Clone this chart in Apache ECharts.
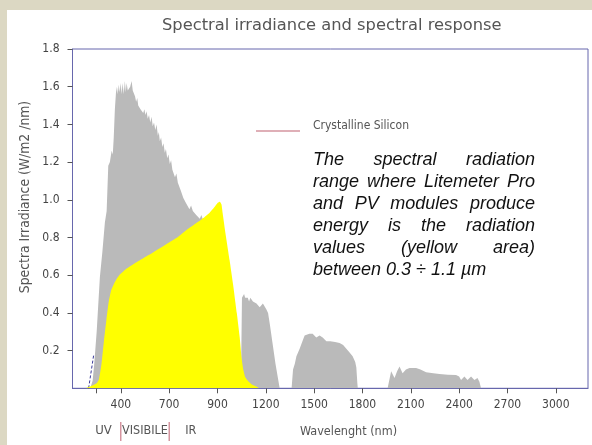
<!DOCTYPE html>
<html><head><meta charset="utf-8">
<script src="https://cdn.jsdelivr.net/npm/echarts@6/dist/echarts.min.js"></script>
<style>html,body{margin:0;padding:0;background:#dcd8c3;}#c{width:592px;height:445px;}</style>
</head><body><div id="c"></div>
<script>
// ---- data ----
const titleText = 'Spectral irradiance and spectral response';
const xTickValues = [300, 600, 900, 1200, 1500, 1800, 2100, 2400, 2700, 3000];
const xTickLabels = ['400', '700', '900', '1200', '1500', '1800', '2100', '2400', '2700', '3000'];
const xExtraTicks = [150];
const yTickValues = [0.2, 0.4, 0.6, 0.8, 1.0, 1.2, 1.4, 1.6, 1.8];
const bandLabels = ['UV', 'VISIBILE', 'IR'];
const legendName = 'Crystalline Silicon';
const noteLines = ['The spectral radiation', 'range where Litemeter Pro', 'and PV modules produce', 'energy is the radiation', 'values (yellow area)', 'between 0.3 ÷ 1.1 µm'];

// solar spectral irradiance (grey area)
const irradiance = [
 [110,0],[125,0.04],[135,0.13],[150,0.30],[170,0.59],[185,0.72],[201,0.88],[212,0.94],[222,1.18],[232,1.20],[243,1.26],[250,1.24],[256,1.33],[263,1.48],[270,1.57],[276,1.60],[281,1.56],[287,1.61],[293,1.57],[299,1.62],[305,1.56],[311,1.62],[318,1.56],[325,1.63],[331,1.57],[336,1.62],[343,1.58],[350,1.57],[358,1.60],[367,1.63],[374,1.58],[381,1.57],[388,1.55],[395,1.52],[402,1.54],[408,1.50],[415,1.51],[422,1.48],[430,1.49],[439,1.46],[446,1.48],[453,1.45],[460,1.47],[467,1.43],[475,1.45],[483,1.41],[491,1.44],[498,1.39],[506,1.41],[514,1.37],[522,1.40],[530,1.34],[536,1.36],[542,1.31],[550,1.33],[558,1.28],[565,1.30],[573,1.25],[580,1.27],[588,1.22],[596,1.24],[604,1.19],[612,1.21],[620,1.16],[628,1.17],[636,1.12],[645,1.14],[654,1.09],[663,1.10],[672,1.05],[680,1.06],[688,1.01],[697,1.02],[706,0.98],[716,0.99],[726,0.95],[736,0.97],[747,0.94],[757,0.95],[768,0.92],[778,0.93],[790,0.90],[800,0.92],[815,0.88],[840,0.85],[870,0.79],[900,0.70],[930,0.55],[960,0.38],[1000,0.25],[1030,0.14],[1046,0.05],
 [1052,0.48],[1058,0.47],[1065,0.50],[1072,0.48],[1080,0.47],[1088,0.48],[1096,0.46],[1104,0.48],[1111,0.48],[1120,0.46],[1130,0.47],[1142,0.45],[1152,0.44],[1162,0.43],[1172,0.44],[1182,0.45],[1193,0.45],[1203,0.42],[1214,0.40],[1225,0.34],[1240,0.25],[1260,0.13],[1286,0],
 [1360,0],[1369,0.10],[1380,0.13],[1390,0.17],[1400,0.19],[1410,0.21],[1420,0.22],[1432,0.26],[1441,0.28],[1452,0.29],[1470,0.29],[1491,0.29],[1502,0.28],[1513,0.27],[1524,0.28],[1534,0.28],[1545,0.27],[1553,0.27],[1565,0.26],[1576,0.25],[1600,0.25],[1630,0.245],[1658,0.24],[1680,0.23],[1700,0.21],[1720,0.19],[1739,0.17],[1755,0.14],[1762,0.11],[1768,0.03],[1771,0],
 [1956,0],[1978,0.09],[1999,0.055],[2015,0.09],[2030,0.115],[2049,0.08],[2070,0.10],[2092,0.108],[2133,0.108],[2160,0.10],[2195,0.085],[2240,0.08],[2278,0.076],[2330,0.072],[2381,0.07],[2400,0.062],[2412,0.044],[2433,0.062],[2452,0.044],[2474,0.062],[2495,0.044],[2514,0.055],[2526,0.035],[2536,0]
];

// crystalline silicon usable response (yellow area)
const response = [
 [77,0],[110,0.01],[150,0.027],[165,0.05],[180,0.13],[195,0.25],[210,0.36],[225,0.46],[240,0.52],[255,0.55],[270,0.575],[290,0.60],[310,0.615],[336,0.635],[380,0.66],[439,0.69],[500,0.72],[584,0.765],[650,0.80],[708,0.84],[750,0.865],[800,0.895],[850,0.93],[880,0.96],[902,0.985],[915,0.99],[925,0.975],[932,0.93],[950,0.82],[975,0.68],[997,0.55],[1020,0.40],[1038,0.27],[1050,0.16],[1060,0.10],[1072,0.06],[1088,0.04],[1111,0.022],[1135,0.012],[1160,0]
];

// short dashed curve at the left edge
const dashedCurve = [[100,0],[132,0.18]];

// ---- chart ----
const chart = echarts.init(document.getElementById('c'), null, {renderer: 'canvas'});
const axisBlue = '#6767ad';
const tickCol = '#555';
const labelFont = '"DejaVu Sans Condensed", "DejaVu Sans", sans-serif';

const option = {
  animation: false,
  backgroundColor: 'transparent',
  title: {
    text: titleText, left: 157, top: 13,
    textStyle: {fontSize: 16.3, fontWeight: 'normal', color: '#555', fontFamily: '"DejaVu Sans", sans-serif'}
  },
  grid: {
    left: 72.5, right: 4, top: 49, bottom: 56.7,
    show: true, borderColor: axisBlue, borderWidth: 1, backgroundColor: 'transparent',
    outerBoundsMode: 'none', containLabel: false
  },
  xAxis: {
    type: 'value', min: 0, max: 3200,
    splitLine: {show: false},
    axisLine: {show: true, onZero: false, lineStyle: {color: axisBlue, width: 1}},
    axisTick: {show: true, customValues: xExtraTicks.concat(xTickValues), length: 5, lineStyle: {color: tickCol}},
    axisLabel: {
      customValues: xTickValues, margin: 11, color: '#444', fontSize: 12, fontFamily: labelFont,
      formatter: v => xTickLabels[xTickValues.indexOf(v)] || ''
    }
  },
  yAxis: {
    type: 'value', min: 0, max: 1.8, interval: 0.2,
    splitLine: {show: false},
    axisLine: {show: true, lineStyle: {color: axisBlue, width: 1}},
    axisTick: {show: true, customValues: yTickValues, length: 5, lineStyle: {color: tickCol}},
    axisLabel: {
      customValues: yTickValues, margin: 13, color: '#444', fontSize: 12, fontFamily: labelFont,
      formatter: v => v.toFixed(1)
    }
  },
  series: [
    {
      name: 'dashed', type: 'line', data: dashedCurve, symbol: 'none', z: 1,
      lineStyle: {color: '#3a3a9a', width: 1, type: [3, 2]}
    },
    {
      name: 'Solar irradiance', type: 'line', data: irradiance, symbol: 'none', z: 2,
      lineStyle: {width: 0}, areaStyle: {color: '#bababa', opacity: 1}
    },
    {
      name: legendName, type: 'line', data: response, symbol: 'none', z: 3, smooth: 0.15,
      lineStyle: {width: 0}, areaStyle: {color: '#ffff00', opacity: 1}
    }
  ]
};
chart.setOption(option);

// ---- text decorations ----
function buildGraphics() {
  const els = [];
  els.push({type: 'rect', z: -100, shape: {x: 7, y: 10, width: 585, height: 435}, style: {fill: '#ffffff'}, silent: true});
  // y axis name
  els.push({type: 'text', x: 25, y: 197, rotation: Math.PI / 2,
    style: {text: 'Spectra Irradiance (W/m2 /nm)', fill: '#555', font: '13.8px ' + labelFont, align: 'center', verticalAlign: 'middle'}});
  // x axis name
  els.push({type: 'text', x: 300, y: 432,
    style: {text: 'Wavelenght (nm)', fill: '#555', font: '12.5px ' + labelFont, align: 'left', verticalAlign: 'middle'}});
  // legend
  els.push({type: 'line', shape: {x1: 256, y1: 131, x2: 300, y2: 131}, style: {stroke: '#c06070', lineWidth: 1.2}});
  els.push({type: 'text', x: 313, y: 126,
    style: {text: legendName, fill: '#555', font: '12px ' + labelFont, align: 'left', verticalAlign: 'middle'}});
  // UV | VISIBILE | IR band
  const p300 = chart.convertToPixel({gridIndex: 0}, [xTickValues[0], 0])[0];
  const p600 = chart.convertToPixel({gridIndex: 0}, [xTickValues[1], 0])[0];
  [p300, p600].forEach(px => els.push({type: 'line', shape: {x1: px, y1: 422, x2: px, y2: 441}, style: {stroke: '#c06070', lineWidth: 1}}));
  const bandY = 431;
  els.push({type: 'text', x: p300 - 9, y: bandY, style: {text: bandLabels[0], fill: '#555', font: '13px ' + labelFont, align: 'right', verticalAlign: 'middle'}});
  els.push({type: 'text', x: (p300 + p600) / 2, y: bandY, style: {text: bandLabels[1], fill: '#555', font: '12.5px ' + labelFont, align: 'center', verticalAlign: 'middle'}});
  els.push({type: 'text', x: p600 + 16, y: bandY, style: {text: bandLabels[2], fill: '#555', font: '12.5px ' + labelFont, align: 'left', verticalAlign: 'middle'}});
  // justified note
  const noteFont = 'italic 18px "Liberation Sans", Arial, sans-serif';
  const ctx = document.createElement('canvas').getContext('2d');
  ctx.font = noteFont;
  const x0 = 313, w = 222, y0 = 160, lh = 22;
  noteLines.forEach((line, i) => {
    const words = line.split(' ');
    const y = y0 + i * lh;
    if (i === noteLines.length - 1 || words.length < 2) {
      els.push({type: 'text', x: x0, y: y, style: {text: line, font: noteFont, fill: '#111', align: 'left', verticalAlign: 'middle'}});
      return;
    }
    const widths = words.map(wd => ctx.measureText(wd).width);
    const total = widths.reduce((a, b) => a + b, 0);
    const gap = (w - total) / (words.length - 1);
    let x = x0;
    words.forEach((wd, k) => {
      els.push({type: 'text', x: x, y: y, style: {text: wd, font: noteFont, fill: '#111', align: 'left', verticalAlign: 'middle'}});
      x += widths[k] + gap;
    });
  });
  return els;
}
chart.setOption({graphic: {elements: buildGraphics()}});
</script>
</body></html>
